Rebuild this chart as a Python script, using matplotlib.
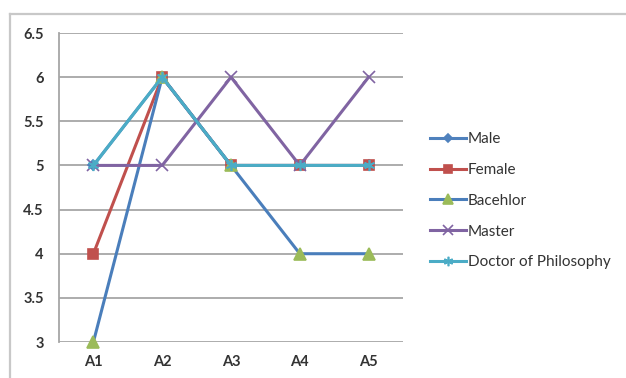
import matplotlib

matplotlib.use("Agg")

import matplotlib.pyplot as plt
from matplotlib.lines import Line2D

plt.rcParams["font.family"] = ["Lato", "DejaVu Sans"]

categories = ["A1", "A2", "A3", "A4", "A5"]
male = [5, 6, 5, 5, 5]
female = [4, 6, 5, 5, 5]
bachelor = [3, 6, 5, 4, 4]
master = [5, 5, 6, 5, 6]
doctor = [5, 6, 5, 5, 5]
y_ticks = [3, 3.5, 4, 4.5, 5, 5.5, 6, 6.5]

# (label, values, line colour, marker, marker colour, marker size)
series = [
    ("Male", male, "#4F81BD", "D", "#4F81BD", 5),
    ("Female", female, "#C0504D", "s", "#C0504D", 7),
    ("Bacehlor", bachelor, "#4A7EBB", "^", "#9BBB59", 8),
    ("Master", master, "#8064A2", "x", "#8064A2", 8),
    ("Doctor of Philosophy", doctor, "#4BACC6", (6, 2, 0), "#4BACC6", 8),
]

fig = plt.figure(figsize=(6.26, 3.78), dpi=100)
fig.patch.set_facecolor("white")

# chart frame, cut by the figure edges on the right and at the bottom
fig.add_artist(Line2D([10 / 626, 10 / 626], [0, 1 - 14 / 378],
                      transform=fig.transFigure, color="#C8C8C8", lw=1.6))
fig.add_artist(Line2D([10 / 626, 1], [1 - 14 / 378, 1 - 14 / 378],
                      transform=fig.transFigure, color="#C8C8C8", lw=1.6))

ax = fig.add_axes([59 / 626, 1 - 342 / 378, 344 / 626, 309 / 378])
x = list(range(len(categories)))

for label, values, color, marker, mcolor, msize in series:
    ax.plot(x, values, color=color, lw=2.2, marker=marker, markersize=msize,
            markerfacecolor=mcolor, markeredgecolor=mcolor, markeredgewidth=1.2,
            label=label, clip_on=False, zorder=3)

ax.set_xlim(-0.5, len(categories) - 0.5)
ax.set_ylim(3, 6.5)
ax.set_yticks(y_ticks)
ax.set_yticklabels([f"{v:g}" for v in y_ticks])
ax.set_xticks(x)
ax.set_xticklabels(categories)
ax.yaxis.grid(True, color="#A6A6A6", lw=1.3)
ax.set_axisbelow(True)
for side in ("top", "right", "bottom"):
    ax.spines[side].set_visible(False)
ax.spines["left"].set_color("#A6A6A6")
ax.spines["left"].set_linewidth(1.3)
ax.tick_params(axis="both", length=0, labelsize=10.5, colors="#333333")
ax.tick_params(axis="y", pad=11)
ax.tick_params(axis="x", pad=9)
for lbl in ax.get_xticklabels() + ax.get_yticklabels():
    lbl.set_fontweight("bold")

ax.legend(loc="upper left", bbox_to_anchor=(424 / 626, 1 - 126 / 378),
          bbox_transform=fig.transFigure, frameon=False, fontsize=11,
          handlelength=2.35, handletextpad=0.1, labelspacing=1.1,
          borderaxespad=0, labelcolor="#333333", markerscale=0.85)

fig.savefig("out.png", dpi=100, facecolor="white")
